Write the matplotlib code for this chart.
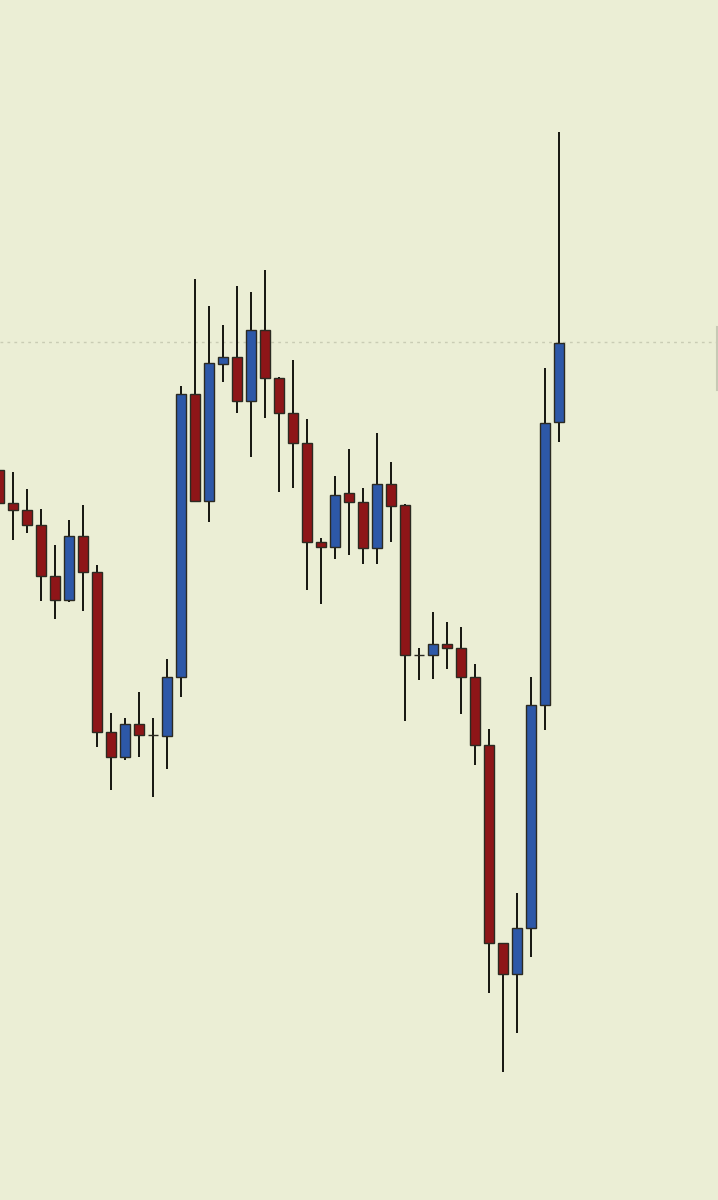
import matplotlib
matplotlib.use('Agg')
import matplotlib.pyplot as plt
import numpy as np

# OHLC (arbitrary price units)
opens  = [730, 697, 690, 675, 624, 600, 664, 628, 468, 443, 476, 465, 464, 523, 806, 699, 836, 843, 799, 870,
          822, 787, 757, 658, 653, 707, 698, 652, 716, 695, 545, 545, 556, 552, 523, 455, 257, 226, 272, 495, 778]
highs  = [738, 728, 711, 691, 655, 680, 695, 635, 487, 482, 508, 482, 541, 814, 921, 894, 875, 914, 908, 930,
          823, 840, 781, 662, 724, 751, 712, 767, 738, 696, 552, 588, 578, 573, 536, 471, 257, 307, 523, 832, 1068]
lows   = [694, 660, 667, 599, 581, 598, 589, 453, 410, 440, 443, 403, 431, 503, 699, 678, 818, 787, 743, 782,
          708, 712, 610, 596, 641, 645, 636, 636, 658, 479, 520, 521, 531, 486, 435, 207, 128, 167, 243, 470, 758]
closes = [697, 690, 675, 624, 600, 664, 628, 468, 443, 476, 465, 465, 523, 806, 699, 837, 843, 799, 870, 822,
          787, 757, 658, 653, 705, 698, 652, 716, 694, 545, 545, 556, 552, 523, 455, 257, 226, 272, 495, 777, 857]
last_price = 858

bg = '#EBEED5'
up_col = '#2D58A8'
down_col = '#8E1518'
doji_col = '#2a2a22'

fig = plt.figure(figsize=(7.18, 12), dpi=100, facecolor=bg)
ax = fig.add_axes([0, 0, 1, 1])
ax.set_facecolor(bg)

x = np.arange(len(opens))
o = np.array(opens); h = np.array(highs); l = np.array(lows); c = np.array(closes)

ax.vlines(x, l, h, color='#15150f', lw=1.4, zorder=2)

cols = []
for oo, cc in zip(o, c):
    if cc > oo:
        cols.append(up_col)
    elif cc < oo:
        cols.append(down_col)
    else:
        cols.append(doji_col)
ax.bar(x, np.abs(c - o), bottom=np.minimum(o, c), width=0.72, color=cols,
       edgecolor='#2b2a22', linewidth=1.0, zorder=3)

ax.axhline(last_price, color='#c9ccb4', lw=1.0, ls=(0, (2, 3)), zorder=1)
ax.axvline(len(opens) * 14 / 14 + 10.3, ymin=0.675, ymax=0.7275, color='#c7c9b5', lw=1.5)

ax.set_xlim(1 / 14, 719 / 14)
ax.set_ylim(0, 1200)
ax.axis('off')

fig.savefig('out.png', dpi=100, facecolor=bg)
